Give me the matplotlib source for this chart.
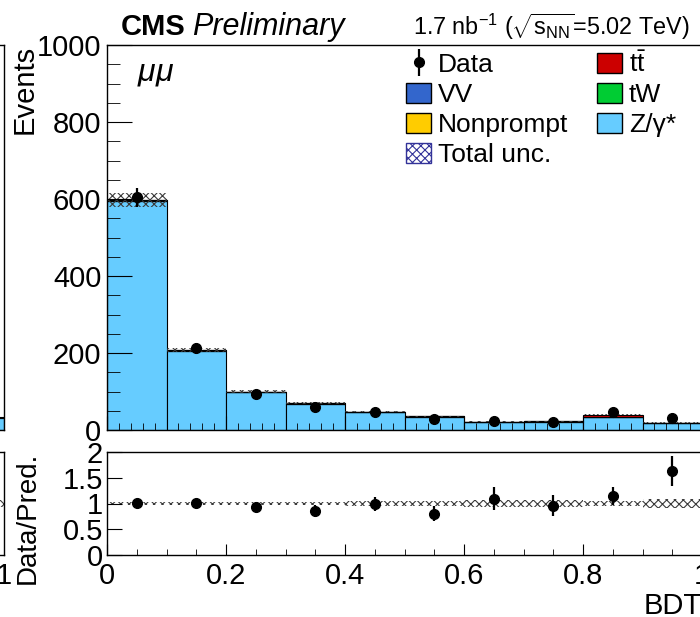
import numpy as np
import matplotlib.pyplot as plt
from matplotlib.patches import Patch
from matplotlib.ticker import MultipleLocator

plt.rcParams['font.family'] = ['Liberation Sans', 'DejaVu Sans']
plt.rcParams['mathtext.fontset'] = 'custom'
plt.rcParams['mathtext.rm'] = 'Liberation Sans'
plt.rcParams['mathtext.it'] = 'Liberation Sans:italic'
plt.rcParams['mathtext.bf'] = 'Liberation Sans:bold'
plt.rcParams['hatch.linewidth'] = 0.8

# BDT output, mumu channel, 10 bins between 0 and 1
bin_edges = np.linspace(0.0, 1.0, 11)
data_counts = [604, 212, 94, 60, 47, 29, 24, 22, 46, 31]
zgamma = [595.0, 206.0, 98.5, 68.6, 46.3, 34.9, 20.8, 21.7, 33.7, 17.9]
nonprompt = [0.5, 0.3, 0.2, 0.2, 0.2, 0.1, 0.1, 0.1, 0.2, 0.1]
vv = [0.8, 0.5, 0.4, 0.3, 0.3, 0.3, 0.3, 0.3, 0.6, 0.3]
tw = [0.3, 0.2, 0.1, 0.1, 0.1, 0.1, 0.1, 0.1, 0.5, 0.1]
ttbar = [1.4, 1.0, 0.8, 0.8, 0.6, 0.6, 0.7, 0.8, 5.0, 0.6]
rel_unc = [0.03, 0.025, 0.03, 0.035, 0.04, 0.045, 0.06, 0.06, 0.05, 0.08]

# neighbouring channel: only its last bin shows at the left border
side_zgamma_last = 30.0
side_ttbar_last = 4.0
side_rel_unc_last = 0.06

colors = {
    'zg': '#66ccff',
    'np': '#ffcc00',
    'vv': '#3366cc',
    'tw': '#00cc33',
    'tt': '#cc0000',
}
hatch_col = '#3a3a3a'

W, H = 700, 617
fig = plt.figure(figsize=(W / 100, H / 100), dpi=100)

def box(x0, y0, x1, y1):
    # pixel box (top-left origin) -> figure fraction rect
    return [x0 / W, 1 - y1 / H, (x1 - x0) / W, (y1 - y0) / H]

ax = fig.add_axes(box(107, 45, 702, 430))
rax = fig.add_axes(box(107, 452, 702, 555))
sax = fig.add_axes(box(4 - 595, 45, 4, 430))
srax = fig.add_axes(box(4 - 595, 452, 4, 555))

centers = 0.5 * (bin_edges[1:] + bin_edges[:-1])
width = bin_edges[1] - bin_edges[0]

stack = [
    (zgamma, colors['zg']),
    (nonprompt, colors['np']),
    (vv, colors['vv']),
    (tw, colors['tw']),
    (ttbar, colors['tt']),
]
bottom = np.zeros(len(centers))
for vals, c in stack:
    vals = np.array(vals)
    ax.bar(centers, vals, width=width, bottom=bottom, color=c,
           edgecolor='black', linewidth=0.8)
    bottom = bottom + vals
total = bottom

unc = total * np.array(rel_unc)
ax.bar(centers, 2 * unc, width=width, bottom=total - unc, facecolor='none',
       edgecolor=hatch_col, hatch='xxxx', linewidth=0)

data = np.array(data_counts, dtype=float)
derr = np.sqrt(data)
ax.errorbar(centers, data, yerr=derr, fmt='o', color='black', ms=7,
            elinewidth=1.6, capsize=0, zorder=5)

ax.set_xlim(0, 1)
ax.set_ylim(0, 1000)
ax.xaxis.set_major_locator(MultipleLocator(0.2))
ax.xaxis.set_minor_locator(MultipleLocator(0.02))
ax.yaxis.set_major_locator(MultipleLocator(200))
ax.yaxis.set_minor_locator(MultipleLocator(50))
ax.tick_params(which='both', direction='in', top=False, right=False,
               labelbottom=False, labelsize=21, pad=4)
ax.tick_params(axis='y', which='major', length=18)
ax.tick_params(axis='y', which='minor', length=9)
ax.tick_params(axis='x', which='major', length=10)
ax.tick_params(axis='x', which='minor', length=5)

ax.text(0.05, 0.965, r'$\mu\mu$', transform=ax.transAxes, fontsize=23,
        va='top', ha='left')

# ratio panel
rax.bar(centers, 2 * np.array(rel_unc), width=width, bottom=1 - np.array(rel_unc),
        facecolor='none', edgecolor=hatch_col, hatch='xxxx', linewidth=0)
ratio = data / total
rax.errorbar(centers, ratio, yerr=derr / total, fmt='o', color='black', ms=7,
             elinewidth=1.6, capsize=0, zorder=5)
rax.set_xlim(0, 1)
rax.set_ylim(0, 2)
rax.xaxis.set_minor_locator(MultipleLocator(0.05))
rax.tick_params(which='both', direction='in', top=False, right=False,
                labelsize=21)
rax.tick_params(axis='y', which='major', length=11, pad=3)
rax.tick_params(axis='x', which='major', length=8, pad=5)
rax.tick_params(axis='x', which='minor', length=4)
rax.set_xticks([0, 0.2, 0.4, 0.6, 0.8, 1.0])
rax.set_xticklabels(['0', '0.2', '0.4', '0.6', '0.8', '1'])
rax.set_yticks([0, 0.5, 1, 1.5, 2])
rax.set_yticklabels(['0', '0.5', '1', '1.5', '2'])

# neighbouring panel edge
sax.bar([0.95], [side_zgamma_last], width=0.1, color=colors['zg'],
        edgecolor='black', linewidth=0.8)
sax.bar([0.95], [side_ttbar_last], width=0.1, bottom=[side_zgamma_last],
        color=colors['tt'], edgecolor='black', linewidth=0.8)
sax.set_xlim(0, 1)
sax.set_ylim(0, 1000)
sax.tick_params(which='both', direction='in', labelleft=False, labelbottom=False,
                left=False, bottom=False)
srax.bar([0.95], [2 * side_rel_unc_last], width=0.1, bottom=[1 - side_rel_unc_last],
         facecolor='none', edgecolor=hatch_col, hatch='xxxx', linewidth=0)
srax.set_xlim(0, 1)
srax.set_ylim(0, 2)
srax.set_xticks([0, 0.2, 0.4, 0.6, 0.8, 1.0])
srax.set_xticklabels(['0', '0.2', '0.4', '0.6', '0.8', '1'])
srax.tick_params(which='both', direction='in', labelleft=False, left=False,
                 labelsize=21, pad=5, length=0)

for a in (ax, rax, sax, srax):
    for s in a.spines.values():
        s.set_linewidth(1.0)

# axis titles
fig.text(25 / W, 1 - 45 / H, 'Events', rotation=90, ha='center', va='top',
         fontsize=21)
fig.text(28 / W, 1 - 452 / H, 'Data/Pred.', rotation=90, ha='center', va='top',
         fontsize=20)
fig.text(702 / W, 1 - 614 / H, 'BDT', ha='right', va='baseline', fontsize=21)

# header
fig.text(121 / W, 1 - 35 / H, 'CMS', fontweight='bold', fontsize=21,
         va='baseline')
fig.text(192 / W, 1 - 35 / H, 'Preliminary', fontstyle='italic', fontsize=22,
         va='baseline')
fig.text(413 / W, 1 - 35 / H,
         r'1.7 nb$^{-1}$ ($\sqrt{\mathrm{s}_{\mathrm{NN}}}$=5.02 TeV)',
         fontsize=16.8, va='baseline')

# legend
h_data = ax.errorbar([], [], yerr=[], fmt='o', color='black', ms=7,
                     elinewidth=1.6, capsize=3)
handles = [
    h_data,
    Patch(facecolor=colors['vv'], edgecolor='black'),
    Patch(facecolor=colors['np'], edgecolor='black'),
    Patch(facecolor='white', edgecolor='#333399', hatch='xxxx'),
    Patch(facecolor=colors['tt'], edgecolor='black'),
    Patch(facecolor=colors['tw'], edgecolor='black'),
    Patch(facecolor=colors['zg'], edgecolor='black'),
]
labels = ['Data', 'VV', 'Nonprompt', 'Total unc.',
          r'$\mathrm{t\bar{t}}$', 'tW', 'Z/γ*']
fig.legend(handles, labels, ncol=2, loc='upper left',
           bbox_to_anchor=(406 / W, 1 - 51 / H), frameon=False, fontsize=19,
           handlelength=0.95, handleheight=0.8, handletextpad=0.25,
           columnspacing=1.1, labelspacing=0.22, borderpad=0.0,
           borderaxespad=0.0)

fig.savefig('out.png', dpi=100)
